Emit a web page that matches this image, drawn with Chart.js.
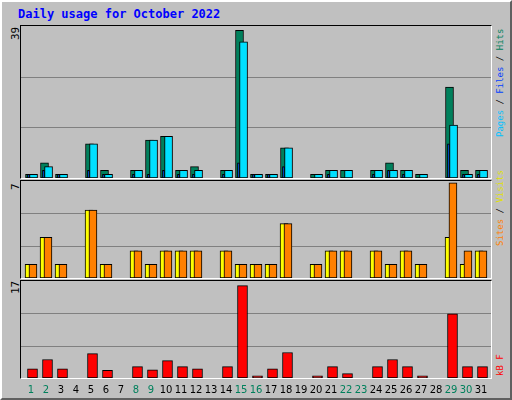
<!DOCTYPE html>
<html>
<head>
<meta charset="utf-8">
<script src="https://cdn.jsdelivr.net/npm/chart.js@4"></script>
<style>
  body { margin: 0; width: 512px; height: 400px; overflow: hidden; }
  #frame { position: absolute; left: 0; top: 0; width: 508px; height: 396px; background: #c0c0c0;
    border: 2px solid; border-color: #ffffff #606060 #606060 #ffffff; }
  .panel { position: absolute; left: 20px; width: 470px; border: 1px solid; border-color: #000 #fff #fff #000; }
  canvas { position: absolute; }
  .lbl { position: absolute; font: 11px "DejaVu Sans Mono", monospace; white-space: nowrap; }
  .rot { transform-origin: left top; transform: rotate(-90deg); }
  .side { font-size: 9px; }
</style>
</head>
<body>
<div id="frame"></div>
<div class="lbl" style="left:18px;top:7px;color:#0000ff;font-weight:bold;font-size:12px">Daily usage for October 2022</div>

<div class="panel" style="top:25px;height:152px"></div>
<div class="panel" style="top:180px;height:97px"></div>
<div class="panel" style="top:280px;height:97px"></div>

<div class="lbl rot" style="left:9px;top:40px">39</div>
<div class="lbl rot" style="left:9px;top:190px">7</div>
<div class="lbl rot" style="left:9px;top:294px">17</div>

<div class="lbl rot side" style="left:495px;top:137px"><span style="color:#00c0ff">Pages</span> / <span style="color:#0040ff">Files</span> / <span style="color:#00805c">Hits</span></div>
<div class="lbl rot side" style="left:495px;top:246px"><span style="color:#ff8000">Sites</span> / <span style="color:#e0e000">Visits</span></div>
<div class="lbl rot side" style="left:495px;top:376px;color:#ff0000">kB F</div>

<canvas id="c1" width="470" height="152" style="left:21px;top:26px"></canvas>
<canvas id="c2" width="470" height="97" style="left:21px;top:181px"></canvas>
<canvas id="c3" width="470" height="117" style="left:21px;top:281px"></canvas>

<script>
const days = Array.from({length: 31}, (_, i) => i + 1);
const weekend = [1, 2, 8, 9, 15, 16, 22, 23, 29, 30];
const hits =   [1,4,1,0,9,2,0,2,10,11,2,3,0,2,39,1,1,8,0,1,2,2,0,2,4,2,1,0,24,2,2];
const files =  [1,3,1,0,9,1,0,2,10,11,2,2,0,2,36,1,1,8,0,1,2,2,0,2,2,2,1,0,14,1,2];
const pages =  [1,2,1,0,2,1,0,1,1,2,1,1,0,1,4,1,1,3,0,0,1,0,0,1,2,1,0,0,9,1,1];
const visits = [1,3,1,0,5,1,0,2,1,2,2,2,0,2,1,1,1,4,0,1,2,2,0,2,1,2,1,0,3,1,2];
const sites =  [1,3,1,0,5,1,0,2,1,2,2,2,0,2,1,1,1,4,0,1,2,2,0,2,1,2,1,0,7,2,2];
const kbytes = [1.7,3.4,1.7,0,4.5,1.4,0,2.1,1.5,3.2,2.1,1.7,0,2.1,17,0.4,1.7,4.7,0,0.4,2.1,0.8,0,2.1,3.4,2.1,0.4,0,11.8,2.1,2.1];

const xMin = 1 - 10 / 15, xMax = xMin + 470 / 15;

function pts(vals, shift) {
  return days.map((d, i) => ({x: d + shift, y: vals[i]}));
}
function ds(vals, shift, color, w) {
  return {data: pts(vals, shift), backgroundColor: color, borderColor: '#000', borderWidth: 1,
    barThickness: w, grouped: false, borderSkipped: false};
}

const gridPlugin = {
  id: 'grid',
  beforeDatasetsDraw(chart) {
    const ctx = chart.ctx, a = chart.chartArea;
    ctx.save();
    ctx.strokeStyle = '#808080';
    ctx.lineWidth = 1;
    [1 / 3, 2 / 3].forEach(f => {
      const y = Math.round(a.bottom - f * (a.bottom - a.top)) + 0.5;
      ctx.beginPath(); ctx.moveTo(a.left, y); ctx.lineTo(a.right, y); ctx.stroke();
    });
    ctx.restore();
  }
};

const dayLabels = {
  id: 'dayLabels',
  afterDraw(chart) {
    const ctx = chart.ctx, xs = chart.scales.x;
    ctx.save();
    ctx.font = '10px "DejaVu Sans", sans-serif';
    ctx.textAlign = 'center';
    days.forEach(d => {
      ctx.fillStyle = weekend.includes(d) ? '#00805c' : '#000';
      ctx.fillText(String(d), xs.getPixelForValue(d), chart.chartArea.bottom + 15);
    });
    ctx.restore();
  }
};

function make(id, datasets, max, padBottom, plugins) {
  new Chart(document.getElementById(id), {
    type: 'bar',
    data: {datasets},
    options: {
      responsive: false, animation: false,
      layout: {padding: {bottom: padBottom}},
      plugins: {legend: {display: false}, tooltip: {enabled: false}},
      scales: {
        x: {type: 'linear', min: xMin, max: xMax, offset: false, display: false},
        y: {min: 0, max: max, display: false}
      }
    },
    plugins: plugins
  });
}

make('c1', [
  ds(pages, -0.17, '#0040ff', 2),
  ds(files, 0.17, '#00e0ff', 8),
  ds(hits, -0.1, '#00805c', 8)
], 39 * 1.03, 0, [gridPlugin]);

make('c2', [
  ds(sites, 0.13, '#ff8000', 8),
  ds(visits, -0.13, '#ffff00', 8)
], 7 * 1.02, 0, [gridPlugin]);

make('c3', [
  ds(kbytes, 0.1, '#ff0000', 10)
], 17 * 1.05, 20, [gridPlugin, dayLabels]);
</script>
</body>
</html>
